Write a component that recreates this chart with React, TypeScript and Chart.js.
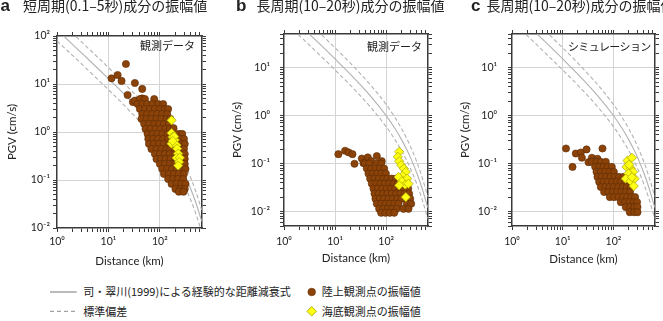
import React, { useEffect, useRef } from 'react';
import { Chart, registerables } from 'chart.js';

Chart.register(...registerables);

type Pt = [number, number];

const curveDistance = [1, 2, 3, 5, 10, 20, 50, 100, 150, 200, 250, 300, 400, 500, 650];
const shortMean = [134, 66.8, 44.5, 26.4, 12.9, 6.21, 2.19, 0.891, 0.483, 0.294, 0.191, 0.13, 0.0643, 0.034, 0.014];
const shortUpper = [228, 114, 75.5, 44.9, 22.0, 10.5, 3.72, 1.51, 0.82, 0.5, 0.325, 0.22, 0.109, 0.0577, 0.0238];
const shortLower = [79.1, 39.4, 26.2, 15.6, 7.62, 3.66, 1.29, 0.525, 0.284, 0.173, 0.113, 0.0764, 0.0379, 0.02, 0.00826];
const longMean = [158, 78.5, 52.1, 31.0, 15.1, 7.23, 2.52, 1.0, 0.53, 0.315, 0.2, 0.133, 0.0628, 0.0317, 0.0122];
const longUpper = [268, 133, 88.5, 52.6, 25.7, 12.3, 4.28, 1.7, 0.899, 0.536, 0.34, 0.225, 0.107, 0.0538, 0.0207];
const longLower = [92.9, 46.2, 30.7, 18.2, 8.91, 4.26, 1.48, 0.589, 0.312, 0.186, 0.118, 0.0782, 0.037, 0.0187, 0.0072];

// ---- tick labels ----
const xDecades = [1, 10, 100];
const xDecadeLabels = ['10⁰', '10¹', '10²'];
const yDecades = [0.01, 0.1, 1, 10, 100];
const yDecadeLabels = ['10⁻²', '10⁻¹', '10⁰', '10¹', '10²'];

// ---- panel a: short period, observed ----
const landA: Pt[] = [
  [11.5, 13.1], [15.1, 15.4], [18.0, 11.6], [21.9, 26.1], [32.7, 10.5], [45.4, 7.9], [23.6, 5.9], [29.9, 4.2], [32.7, 4.5], [45.4, 5.0],
  [40.9, 4.87], [51.2, 4.87], [77.6, 4.87],
  [36.9, 3.83], [45.4, 3.83], [56.7, 3.83], [71, 3.83], [92.8, 3.83], [116, 3.83],
  [40.9, 3.01], [51.2, 3.01], [63.9, 3.01], [80, 3.01], [100, 3.01], [125, 3.01], [145, 3.01],
  [45.4, 2.37], [56.7, 2.37], [71, 2.37], [88.7, 2.37], [111, 2.37], [139, 2.37],
  [44, 1.87], [55.1, 1.87], [68.6, 1.87], [86.1, 1.87], [107, 1.87], [135, 1.87], [160, 1.87],
  [49.6, 1.47], [62, 1.47], [77.6, 1.47], [96, 1.47], [120, 1.47], [150, 1.47],
  [52.7, 1.16], [65.9, 1.16], [82.4, 1.16], [103, 1.16], [129, 1.16], [156, 1.16], [185, 1.2],
  [57.7, 0.91], [72.1, 0.91], [90.1, 0.91], [113, 0.91], [141, 0.91], [185, 0.91], [234, 0.91], [272, 0.91],
  [59.6, 0.716], [74.2, 0.716], [92.8, 0.716], [116, 0.716], [145, 0.716], [205, 0.75], [253, 0.716], [294, 0.716],
  [61.5, 0.564], [76.5, 0.564], [96, 0.564], [119, 0.564], [150, 0.564], [195, 0.6], [264, 0.564], [305, 0.564],
  [68.6, 0.443], [86.1, 0.443], [107, 0.443], [135, 0.443], [156, 0.443], [195, 0.443], [245, 0.443], [294, 0.443],
  [80, 0.348], [100, 0.348], [125, 0.348], [156, 0.348], [195, 0.348], [253, 0.348], [305, 0.348],
  [86, 0.274], [105, 0.274], [129, 0.274], [161, 0.274], [201, 0.274], [252, 0.274], [305, 0.274],
  [100, 0.216], [125, 0.216], [156, 0.216], [195, 0.216], [245, 0.216], [305, 0.216],
  [111, 0.17], [139, 0.17], [173, 0.17], [216, 0.17], [272, 0.17], [315, 0.17],
  [120, 0.134], [150, 0.134], [188, 0.134], [234, 0.134], [294, 0.134],
  [145, 0.105], [181, 0.105], [226, 0.105], [284, 0.105],
  [169, 0.083], [211, 0.083], [264, 0.083], [315, 0.083],
  [201, 0.065], [252, 0.065], [305, 0.065],
  [234, 0.057], [288, 0.057],
];
const seaA: Pt[] = [
  [169, 1.75], [169, 0.95], [176, 0.79], [196, 0.68], [169, 0.57], [211, 0.53], [217, 0.45],
  [227, 0.355], [212, 0.29], [245, 0.29], [237, 0.237], [227, 0.2], [190, 0.81], [178, 0.65],
];

// ---- panel b: long period, observed ----
const landB: Pt[] = [
  [11.6, 0.157], [15.7, 0.185], [18.3, 0.171], [21.9, 0.157], [24, 0.099], [33.4, 0.127], [43.8, 0.134], [36, 0.102], [50.8, 0.112], [65.6, 0.143], [82, 0.112],
  [38.7, 0.1], [46.5, 0.1], [65.7, 0.1], [79.8, 0.1],
  [41.8, 0.0787], [50.8, 0.0787], [61.8, 0.0787], [75.2, 0.0787], [91.4, 0.0787],
  [45.1, 0.0618], [54.8, 0.0618], [66.7, 0.0618], [81.1, 0.0618], [98.6, 0.0618],
  [48.6, 0.0485], [59.1, 0.0485], [71.9, 0.0485], [87.5, 0.0485], [106, 0.0485], [129, 0.0485], [157, 0.0485],
  [52.4, 0.0381], [63.7, 0.0381], [77.5, 0.0381], [94.2, 0.0381], [115, 0.0381], [140, 0.0381], [170, 0.0381], [203, 0.0381],
  [56.5, 0.03], [68.8, 0.03], [83.6, 0.03], [102, 0.03], [124, 0.03], [150, 0.03], [183, 0.03], [222, 0.03], [270, 0.03],
  [59.1, 0.0235], [71.9, 0.0235], [87.5, 0.0235], [106, 0.0235], [129, 0.0235], [157, 0.0235], [191, 0.0235], [232, 0.0235], [282, 0.0235],
  [61.8, 0.0185], [75.2, 0.0185], [91.4, 0.0185], [111, 0.0185], [135, 0.0185], [164, 0.0185], [200, 0.0185], [296, 0.0185],
  [65.7, 0.0145], [79.8, 0.0145], [97, 0.0145], [118, 0.0145], [144, 0.0145], [175, 0.0145], [255, 0.0145], [309, 0.0145],
  [73, 0.0114], [88.7, 0.0114], [108, 0.0114], [131, 0.0114], [160, 0.0114], [219, 0.0114], [274, 0.0114],
  [79.8, 0.0094], [97, 0.0094], [118, 0.0094], [144, 0.0094],
];
const seaB: Pt[] = [
  [180, 0.176], [169, 0.138], [180, 0.112], [197, 0.0925], [222, 0.0787], [243, 0.067], [209, 0.0552],
  [175, 0.0526], [258, 0.0485], [203, 0.0427], [236, 0.0363], [180, 0.0352], [274, 0.038], [243, 0.02],
];

// ---- panel c: long period, simulation ----
const landC: Pt[] = [
  [11.6, 0.206], [15.6, 0.085], [18.1, 0.162], [22.8, 0.17], [23.9, 0.132], [29.5, 0.197], [60.8, 0.206], [32.3, 0.107], [37.6, 0.132], [48.5, 0.126],
  [37.6, 0.1085], [46.4, 0.1085], [56.4, 0.1085], [70.8, 0.1085],
  [43.6, 0.0853], [52.4, 0.0853], [63.7, 0.0853], [77.4, 0.0853], [92.9, 0.0853],
  [46.4, 0.067], [56.4, 0.067], [68.7, 0.067], [83.5, 0.067], [102, 0.067],
  [48.5, 0.0526], [59, 0.0526], [71.9, 0.0526], [87.5, 0.0526], [106, 0.0526], [129, 0.0526], [158, 0.0526],
  [52.4, 0.0413], [63.7, 0.0413], [77.4, 0.0413], [94.4, 0.0413], [115, 0.0413], [140, 0.0413], [170, 0.0413],
  [56.4, 0.0324], [68.7, 0.0324], [83.5, 0.0324], [102, 0.0324], [124, 0.0324], [151, 0.0324], [183, 0.0324], [220, 0.0324],
  [65.6, 0.0255], [79.8, 0.0255], [97.2, 0.0255], [118, 0.0255], [144, 0.0255], [175, 0.0255], [213, 0.0255],
  [84.9, 0.02], [103, 0.02], [126, 0.02], [153, 0.02], [186, 0.02], [227, 0.02], [267, 0.02],
  [140, 0.0157], [170, 0.0157], [207, 0.0157], [252, 0.0157], [292, 0.0157],
  [175, 0.0124], [213, 0.0124], [260, 0.0124], [298, 0.0124],
  [210, 0.0097], [256, 0.0097], [298, 0.0097],
];
const seaC: Pt[] = [
  [189, 0.115], [232, 0.132], [181, 0.085], [220, 0.079], [244, 0.067], [198, 0.062],
  [175, 0.0485], [220, 0.043], [262, 0.0485], [252, 0.034], [232, 0.052], [205, 0.095],
];

const FRAME = '#3a3a3a';
const GRID = '#d4d4d4';
const CURVE = '#b2b2b2';
const BROWN = '#8b4309';
const BROWN_EDGE = '#5a2a04';
const YELLOW = '#ffff14';
const YELLOW_EDGE = '#a6a000';
const SANS = 'Lato, "Noto Sans", sans-serif';
const CJK = '"Noto Sans CJK JP", "Noto Sans", sans-serif';

function logTicks(min: number, max: number): number[] {
  const out: number[] = [];
  for (let e = Math.floor(Math.log10(min)); e <= Math.ceil(Math.log10(max)); e++) {
    for (let m = 1; m <= 9; m++) {
      const v = parseFloat((m * Math.pow(10, e)).toPrecision(6));
      if (v >= min * 0.999999 && v <= max * 1.000001) out.push(v);
    }
  }
  return out;
}

function decadeLabel(v: number, decades: number[], labels: string[]): string {
  for (let i = 0; i < decades.length; i++) {
    if (Math.abs(Math.log10(v) - Math.log10(decades[i])) < 1e-6) return labels[i];
  }
  return '';
}

function gridColor(ctx: any) {
  const v = ctx.tick ? ctx.tick.value : null;
  const s = ctx.scale;
  if (v == null || !s) return 'rgba(0,0,0,0)';
  const lv = Math.log10(v);
  if (Math.abs(lv - Math.log10(s.min)) < 1e-6 || Math.abs(lv - Math.log10(s.max)) < 1e-6) return 'rgba(0,0,0,0)';
  return Math.abs(lv - Math.round(lv)) < 1e-6 ? GRID : 'rgba(0,0,0,0)';
}

interface PanelSpec {
  left: number; width: number; height: number;
  area: { l: number; r: number; t: number; b: number };
  xMin: number; xMax: number; yMin: number; yMax: number;
  yTickPad: number; xTickPad: number; yTitlePad: number; xTitlePad: number;
  land: Pt[]; sea: Pt[]; mean: number[]; upper: number[]; lower: number[];
}

const panels: PanelSpec[] = [
  {
    left: 0, width: 220, height: 272, area: { l: 57, r: 202, t: 36, b: 228 },
    xMin: 1, xMax: 660, yMin: 0.01, yMax: 100,
    yTickPad: 3, xTickPad: 3.5, yTitlePad: 5, xTitlePad: 4,
    land: landA, sea: seaA, mean: shortMean, upper: shortUpper, lower: shortLower,
  },
  {
    left: 222, width: 225, height: 272, area: { l: 62, r: 206, t: 34, b: 226 },
    xMin: 1, xMax: 660, yMin: 0.005, yMax: 50,
    yTickPad: 10, xTickPad: 5.5, yTitlePad: 8, xTitlePad: 6.5,
    land: landB, sea: seaB, mean: longMean, upper: longUpper, lower: longLower,
  },
  {
    left: 447, width: 216, height: 272, area: { l: 65, r: 208, t: 34, b: 226 },
    xMin: 1, xMax: 660, yMin: 0.005, yMax: 50,
    yTickPad: 11, xTickPad: 5.5, yTitlePad: 11, xTitlePad: 6.3,
    land: landC, sea: seaC, mean: longMean, upper: longUpper, lower: longLower,
  },
];

function buildConfig(p: PanelSpec): any {
  const xt = logTicks(p.xMin, p.xMax);
  const yt = logTicks(p.yMin, p.yMax);
  const tickFont = { family: SANS, size: 10.5 };
  const titleFont = { family: SANS, size: 11.5 };
  const border = { display: true, color: FRAME, width: 1.5 };
  const setX = (s: any) => { s.ticks = xt.map((v) => ({ value: v })); };
  const setY = (s: any) => { s.ticks = yt.map((v) => ({ value: v })); };
  const curve = (vals: number[], dashed: boolean) => ({
    type: 'line',
    data: curveDistance.map((x, i) => ({ x, y: vals[i] })),
    borderColor: CURVE,
    borderWidth: 1.1,
    borderDash: dashed ? [4, 2.5] : [],
    pointRadius: 0,
    fill: false,
    cubicInterpolationMode: 'monotone',
    order: 3,
  });
  return {
    type: 'scatter',
    data: {
      datasets: [
        {
          data: p.sea.map(([x, y]) => ({ x, y })),
          pointStyle: 'rectRot', pointRadius: 4.6, pointHoverRadius: 4.6,
          backgroundColor: YELLOW, borderColor: YELLOW_EDGE, borderWidth: 0.7, order: 1,
        },
        {
          data: p.land.map(([x, y]) => ({ x, y })),
          pointStyle: 'circle', pointRadius: 3.6, pointHoverRadius: 3.6,
          backgroundColor: BROWN, borderColor: BROWN_EDGE, borderWidth: 0.6, order: 2,
        },
        curve(p.mean, false),
        curve(p.upper, true),
        curve(p.lower, true),
      ],
    },
    options: {
      animation: false,
      responsive: false,
      devicePixelRatio: 1,
      events: [],
      layout: { padding: 0 },
      plugins: { legend: { display: false }, tooltip: { enabled: false }, title: { display: false } },
      scales: {
        x: {
          type: 'logarithmic', position: 'bottom', min: p.xMin, max: p.xMax,
          afterBuildTicks: setX,
          afterFit: (s: any) => { s.height = p.height - p.area.b; },
          border,
          grid: { color: gridColor, lineWidth: 1, drawTicks: true, tickLength: 4, tickColor: FRAME, tickWidth: 1 },
          ticks: {
            autoSkip: false, maxRotation: 0, minRotation: 0, padding: p.xTickPad, color: '#222', font: tickFont,
            callback: (v: any) => decadeLabel(Number(v), xDecades, xDecadeLabels),
          },
          title: { display: true, text: 'Distance (km)', color: '#222', font: titleFont, padding: { top: 0, bottom: p.xTitlePad } },
        },
        x2: {
          type: 'logarithmic', position: 'top', min: p.xMin, max: p.xMax,
          afterBuildTicks: setX,
          afterFit: (s: any) => { s.height = p.area.t; },
          border,
          grid: { drawOnChartArea: false, drawTicks: true, tickLength: 4, tickColor: FRAME, tickWidth: 1 },
          ticks: { display: false, autoSkip: false },
        },
        y: {
          type: 'logarithmic', position: 'left', min: p.yMin, max: p.yMax,
          afterBuildTicks: setY,
          afterFit: (s: any) => { s.width = p.area.l; },
          border,
          grid: { color: gridColor, lineWidth: 1, drawTicks: true, tickLength: 4, tickColor: FRAME, tickWidth: 1 },
          ticks: {
            autoSkip: false, padding: p.yTickPad, color: '#222', font: tickFont,
            callback: (v: any) => decadeLabel(Number(v), yDecades, yDecadeLabels),
          },
          title: { display: true, text: 'PGV (cm/s)', color: '#222', font: titleFont, padding: { top: p.yTitlePad, bottom: 0 } },
        },
        y2: {
          type: 'logarithmic', position: 'right', min: p.yMin, max: p.yMax,
          afterBuildTicks: setY,
          afterFit: (s: any) => { s.width = p.width - p.area.r; },
          border,
          grid: { drawOnChartArea: false, drawTicks: true, tickLength: 4, tickColor: FRAME, tickWidth: 1 },
          ticks: { display: false, autoSkip: false },
        },
      },
    },
  };
}

function Panel({ spec }: { spec: PanelSpec }) {
  const ref = useRef<HTMLCanvasElement>(null);
  useEffect(() => {
    if (!ref.current) return;
    const chart = new Chart(ref.current, buildConfig(spec));
    return () => chart.destroy();
  }, [spec]);
  return (
    <canvas
      ref={ref}
      width={spec.width}
      height={spec.height}
      style={{ position: 'absolute', left: spec.left, top: 0, width: spec.width, height: spec.height }}
    />
  );
}

const panelTitles = [
  { letter: 'a', letterLeft: 0.5, textLeft: 23, text: '短周期(0.1–5秒)成分の振幅値' },
  { letter: 'b', letterLeft: 236, textLeft: 256.5, text: '長周期(10–20秒)成分の振幅値' },
  { letter: 'c', letterLeft: 471, textLeft: 486.5, text: '長周期(10–20秒)成分の振幅値' },
];

const insetLabels = [
  { text: '観測データ', right: 468, top: 37.7, spacing: 0 },
  { text: '観測データ', right: 241, top: 38.8, spacing: 0 },
  { text: 'シミュレーション', right: 12.3, top: 38.8, spacing: -0.6 },
];

const legendItems = {
  curve: '司・翠川(1999)による経験的な距離減衰式',
  sigma: '標準偏差',
  land: '陸上観測点の振幅値',
  sea: '海底観測点の振幅値',
};

export default function App() {
  const txt: React.CSSProperties = {
    position: 'absolute', whiteSpace: 'nowrap', fontFamily: CJK, color: '#222',
  };
  return (
    <div style={{ position: 'absolute', left: 0, top: 0, width: 663, height: 321, background: '#fff', overflow: 'hidden' }}>
      {panels.map((p, i) => <Panel key={i} spec={p} />)}

      {panelTitles.map((t, i) => (
        <React.Fragment key={i}>
          <div style={{ ...txt, left: t.letterLeft, top: -2.7, fontFamily: '"Liberation Sans", Arial, sans-serif', fontWeight: 'bold', fontSize: 17, lineHeight: '17px' }}>{t.letter}</div>
          <div style={{ ...txt, left: t.textLeft, top: -1.8, fontSize: 14, lineHeight: '14px' }}>{t.text}</div>
        </React.Fragment>
      ))}

      {insetLabels.map((l, i) => (
        <div key={i} style={{ ...txt, right: l.right, top: l.top, fontSize: 11, lineHeight: '14px', letterSpacing: l.spacing }}>{l.text}</div>
      ))}

      <svg width={663} height={43} style={{ position: 'absolute', left: 0, top: 278 }}>
        <line x1={50} y1={14} x2={76.7} y2={14} stroke="#777" strokeWidth={1} />
        <line x1={50} y1={33.3} x2={76.7} y2={33.3} stroke="#8a8a8a" strokeWidth={1} strokeDasharray="4 3" />
        <circle cx={311.7} cy={14} r={3.8} fill={BROWN} stroke={BROWN_EDGE} strokeWidth={0.6} />
        <polygon points="311.7,28.5 316.5,33.3 311.7,38.1 306.9,33.3" fill={YELLOW} stroke={YELLOW_EDGE} strokeWidth={0.8} />
      </svg>
      <div style={{ ...txt, left: 83.3, top: 284.4, fontSize: 11, lineHeight: '14px' }}>{legendItems.curve}</div>
      <div style={{ ...txt, left: 83.3, top: 303.7, fontSize: 11, lineHeight: '14px' }}>{legendItems.sigma}</div>
      <div style={{ ...txt, left: 321.7, top: 284.4, fontSize: 11, lineHeight: '14px' }}>{legendItems.land}</div>
      <div style={{ ...txt, left: 321.7, top: 303.7, fontSize: 11, lineHeight: '14px' }}>{legendItems.sea}</div>
    </div>
  );
}
